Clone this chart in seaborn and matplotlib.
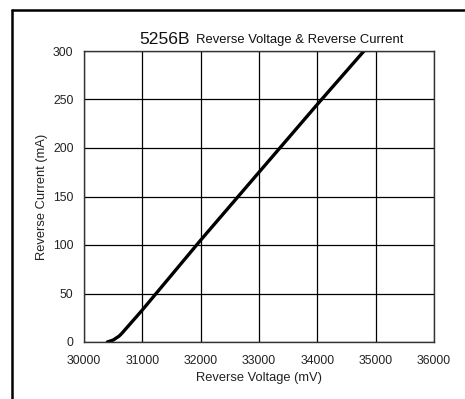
import matplotlib
matplotlib.use('Agg')
import matplotlib.pyplot as plt
import pandas as pd
import seaborn as sns
from matplotlib.lines import Line2D

sns.set_style('white')
plt.rcParams['font.family'] = ['Liberation Sans', 'DejaVu Sans']

voltage_mv = [30400, 30500, 30600, 30650, 31000, 32000, 33000, 34000, 34800]
current_ma = [0, 2, 6, 9, 33, 105, 175, 245, 300]
x_ticks = [30000, 31000, 32000, 33000, 34000, 35000, 36000]
y_ticks = [0, 50, 100, 150, 200, 250, 300]

df = pd.DataFrame({'v': voltage_mv, 'i': current_ma})

fig = plt.figure(figsize=(4.65, 3.99), dpi=100)
ax = fig.add_axes([84 / 465, 1 - 342 / 399, 350 / 465, 291 / 399])

sns.lineplot(data=df, x='v', y='i', ax=ax, color='black', linewidth=2.4)

ax.set_xlim(30000, 36000)
ax.set_ylim(0, 300)
ax.set_xticks(x_ticks)
ax.set_yticks(y_ticks)
ax.tick_params(labelsize=8.8, length=0, colors='#222222')
ax.tick_params(axis='y', pad=7.5)
ax.tick_params(axis='x', pad=9)
ax.grid(True, color='black', linewidth=0.9)
for s in ax.spines.values():
    s.set_color('#333333')
    s.set_linewidth(1.0)

ax.set_xlabel('Reverse Voltage (mV)', fontsize=9.3, labelpad=4, color='#222222')
ax.set_ylabel('Reverse Current (mA)', fontsize=9.3, labelpad=4, color='#222222')

fig.text(139 / 465, 1 - 43.5 / 399, '5256B', fontsize=12.6, va='baseline', ha='left', color='#111111')
fig.text(196 / 465, 1 - 43.5 / 399, 'Reverse Voltage & Reverse Current', fontsize=9.4,
         va='baseline', ha='left', color='#111111')

# outer frame (left and top edges)
fig.add_artist(Line2D([11.5 / 465, 11.5 / 465], [0, 1 - 9.5 / 399], transform=fig.transFigure,
                      color='black', linewidth=1.8))
fig.add_artist(Line2D([11.5 / 465, 1], [1 - 9.5 / 399, 1 - 9.5 / 399], transform=fig.transFigure,
                      color='black', linewidth=1.8))

fig.savefig('out.png', dpi=100)
